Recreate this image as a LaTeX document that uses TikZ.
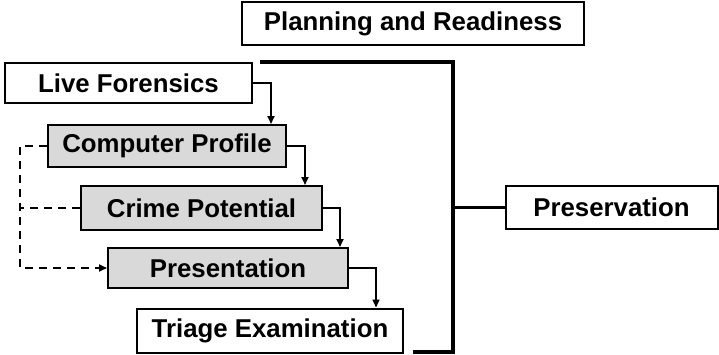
\documentclass[tikz,border=0pt]{standalone}
\usepackage{fontspec}
\setmainfont{Liberation Sans}
\usetikzlibrary{arrows.meta}
\definecolor{boxgray}{RGB}{217,217,217}
\begin{document}
\begin{tikzpicture}[x=1pt,y=-1pt,font=\fontsize{25.8}{30}\selectfont\bfseries,
    >={Triangle[length=8pt,width=7pt]}]
      \tikzstyle{stage}=[draw,line width=2pt,inner sep=0pt,minimum height=42pt]
      \tikzstyle{sub}=[stage,fill=boxgray]
      \tikzstyle{link}=[line width=1.8pt,->]
      \tikzstyle{bracket}=[line width=3.2pt]
      \useasboundingbox (0,0) rectangle (719,354);

      \node[stage,minimum width=342pt,minimum height=43pt] (plan) at (413,23.5) {Planning and Readiness};
      \node[stage,minimum width=247pt,minimum height=40pt] (live) at (128.5,83) {Live Forensics};
      \node[sub,minimum width=238pt] (profile) at (167,146) {Computer Profile};
      \node[sub,minimum width=241pt,minimum height=44pt] (crime) at (201.5,208) {Crime Potential};
      \node[sub,minimum width=240pt,minimum height=40pt] (pres) at (228,268) {Presentation};
      \node[stage,minimum width=266pt,minimum height=44pt] (triage) at (270,330.5) {Triage Examination};
      \node[stage,minimum width=212pt,minimum height=43pt] (preserv) at (611.5,207.5) {Preservation};

      \draw[link] (live.east) -| ([xshift=-16pt]profile.north east);
      \draw[link] (profile.east) -| ([xshift=-18pt]crime.north east);
      \draw[link] (crime.east) -| ([xshift=-9pt]pres.north east);
      \draw[link] (pres.east) -| ([xshift=-28pt]triage.north east);

      \coordinate (loop) at (20,208);
      \draw[link,dashed,dash pattern=on 8pt off 6pt] (profile.west) -| (loop) |- (pres.west);
      \draw[line width=1.8pt,dashed,dash pattern=on 8pt off 6pt] (crime.west) -- (loop);

      \coordinate (btop) at (260,62);
      \coordinate (bbot) at (413,352);
      \coordinate (bmid) at (453,207.5);
      \draw[bracket] (btop) -| (bmid) |- (bbot);
      \draw[bracket] (bmid) -- (preserv.west);
    \end{tikzpicture}
\end{document}
